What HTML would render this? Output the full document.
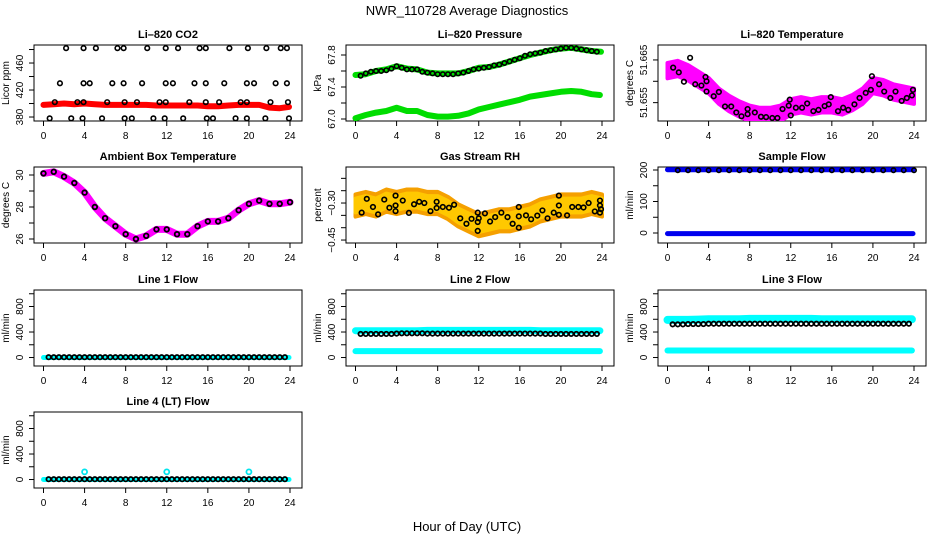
<!DOCTYPE html>
<html><head><meta charset="utf-8"><style>
html,body{margin:0;padding:0;background:#fff;}
svg{display:block;font-family:"Liberation Sans",sans-serif;}
</style></head><body>
<svg id="chart" width="936" height="540" viewBox="0 0 936 540" xmlns="http://www.w3.org/2000/svg">
<text x="467" y="15" font-size="13" text-anchor="middle">NWR_110728  Average Diagnostics</text>
<text x="467" y="531" font-size="13" text-anchor="middle">Hour of Day (UTC)</text>
</svg>
<script>
// ---------- data ----------
const xTicks = [0,4,8,12,16,20,24];
const hours = [0,1,2,3,4,5,6,7,8,9,10,11,12,13,14,15,16,17,18,19,20,21,22,23,24];
const halfHours = [0.5,1,1.5,2,2.5,3,3.5,4,4.5,5,5.5,6,6.5,7,7.5,8,8.5,9,9.5,10,10.5,11,11.5,12,12.5,13,13.5,14,14.5,15,15.5,16,16.5,17,17.5,18,18.5,19,19.5,20,20.5,21,21.5,22,22.5,23,23.5];

// CO2
const co2Red = [398,399,400,399,400,399,398,398,398,398,398,397,397,397,397,397,396,396,397,398,398,398,394,393,395];
const co2BlackX = [2.2,3.9,5.1,7.2,7.8,10.1,11.9,13.1,15.2,15.8,18.1,19.9,21.7,23.1,23.7,
  1.6,3.9,4.5,6.7,7.8,9.6,11.9,12.6,14.7,15.8,17.6,19.8,20.5,22.6,23.7,
  1.1,3.3,3.9,6.2,7.9,9.1,11.3,11.9,14.2,15.8,17.1,19.2,19.8,22.1,23.8,
  0.6,2.7,3.8,5.7,7.9,8.6,10.7,11.8,13.6,15.9,16.5,18.7,19.8,21.6,23.9];
const co2BlackY = [482,482,482,482,482,482,482,482,482,482,482,482,482,482,482,
  430,430,430,430,430,430,430,430,430,430,430,430,430,430,430,
  402,402,402,402,402,402,402,402,402,402,402,402,402,402,402,
  378,378,378,378,378,378,378,378,378,378,378,378,378,378,378];
// Pressure
const presUpper = [67.55,67.56,67.60,67.62,67.66,67.63,67.62,67.58,67.57,67.57,67.57,67.60,67.64,67.65,67.68,67.72,67.76,67.80,67.83,67.86,67.88,67.89,67.87,67.85,67.84];
const presLower = [67.01,67.05,67.08,67.10,67.14,67.10,67.10,67.05,67.03,67.03,67.04,67.07,67.12,67.15,67.18,67.21,67.24,67.28,67.30,67.32,67.34,67.35,67.34,67.31,67.30];
const presBlack = [67.54,67.57,67.59,67.60,67.60,67.61,67.63,67.66,67.64,67.62,67.62,67.62,67.59,67.58,67.57,67.56,67.56,67.56,67.56,67.57,67.58,67.60,67.62,67.63,67.64,67.65,67.67,67.68,67.70,67.72,67.74,67.76,67.79,67.81,67.82,67.83,67.85,67.86,67.87,67.88,67.89,67.89,67.88,67.87,67.86,67.85,67.84];
// Li-820 temperature
const tempBand = [51.6625,51.663,51.662,51.6605,51.659,51.6565,51.6548,51.6535,51.6525,51.652,51.652,51.6525,51.654,51.6545,51.654,51.6545,51.6545,51.654,51.655,51.6565,51.659,51.6585,51.6575,51.657,51.6565];
const tempBlackX = [0.55,1.1,1.6,2.2,2.7,3.3,3.7,3.8,3.8,4.5,5.0,5.6,6.2,6.7,7.2,7.8,7.8,8.5,9.1,9.6,10.2,10.7,11.2,11.8,11.9,12.0,12.5,13.1,13.6,14.2,14.7,15.3,15.7,15.9,16.6,17.1,17.6,18.2,18.7,19.3,19.8,19.9,20.6,21.1,21.7,22.2,22.8,23.3,23.8,23.9];
const tempBlackY = [51.6632,51.6621,51.6599,51.6655,51.6593,51.659,51.661,51.66,51.6576,51.6565,51.6575,51.6541,51.6541,51.6527,51.6518,51.6523,51.6535,51.6527,51.6517,51.6516,51.6514,51.6514,51.6535,51.6543,51.6557,51.652,51.6538,51.6538,51.6548,51.653,51.6533,51.6542,51.6546,51.6563,51.653,51.6538,51.6533,51.6546,51.6561,51.6573,51.658,51.6612,51.6593,51.6576,51.6561,51.6576,51.6554,51.6561,51.6567,51.658];
// Ambient box temperature
const ambient = [30.1,30.2,29.9,29.5,28.9,28.0,27.3,26.8,26.3,26.0,26.2,26.6,26.6,26.3,26.3,26.8,27.1,27.1,27.3,27.8,28.2,28.4,28.2,28.2,28.3];
// Gas stream RH
const rhBand = [-0.31,-0.30,-0.31,-0.29,-0.30,-0.29,-0.29,-0.30,-0.30,-0.32,-0.35,-0.37,-0.39,-0.38,-0.37,-0.37,-0.36,-0.35,-0.33,-0.32,-0.31,-0.31,-0.31,-0.30,-0.31];
const rhBlackX = [0.6,1.1,1.7,2.2,2.8,3.3,3.9,3.9,3.9,4.6,5.2,5.7,6.2,6.7,7.3,7.9,7.9,8.5,9.1,9.6,10.2,10.8,11.3,11.9,11.9,11.9,12.0,12.6,13.1,13.6,14.2,14.8,15.3,15.9,15.9,15.9,16.6,17.1,17.7,18.2,18.7,19.3,19.8,19.8,19.8,20.6,21.1,21.7,22.2,22.7,23.3,23.8,23.8,23.8,23.9];
const rhBlackY = [-0.339,-0.283,-0.316,-0.346,-0.286,-0.319,-0.333,-0.31,-0.27,-0.29,-0.34,-0.305,-0.295,-0.3,-0.333,-0.32,-0.295,-0.316,-0.319,-0.307,-0.362,-0.384,-0.364,-0.339,-0.377,-0.413,-0.362,-0.342,-0.375,-0.357,-0.339,-0.357,-0.384,-0.354,-0.316,-0.4,-0.35,-0.366,-0.351,-0.33,-0.362,-0.339,-0.348,-0.31,-0.27,-0.35,-0.316,-0.316,-0.318,-0.3,-0.334,-0.339,-0.31,-0.29,-0.325];
// Flows
const sampleBlue = [201,201,201,201,201,201,201,201,201,201,201,201,201,201,201,201,201,201,201,201,201,201,201,201,201];
const sampleZero = [-2,-2,-2,-2,-2,-2,-2,-2,-2,-2,-2,-2,-2,-2,-2,-2,-2,-2,-2,-2,-2,-2,-2,-2,-2];
const sampleBlack = [199,199,199,199,199,199,199,199,199,199,199,199,199,199,199,199,199,199,199,199,199,199,199,199];
const line1Black = [5,5,5,5,5,5,5,5,5,5,5,5,5,5,5,5,5,5,5,5,5,5,5,5,5,5,5,5,5,5,5,5,5,5,5,5,5,5,5,5,5,5,5,5,5,5,5];
const line1Cyan = [0,0,0,0,0,0,0,0,0,0,0,0,0,0,0,0,0,0,0,0,0,0,0,0,0];
const line2Upper = [420,420,420,420,420,420,420,425,425,425,425,425,425,425,425,425,425,425,420,420,420,420,420,420,420];
const line2Black = [370,370,370,370,370,370,370,375,380,380,380,380,380,375,375,375,375,375,375,375,375,375,375,375,375,375,375,375,375,375,375,375,375,375,375,375,370,370,370,370,370,370,370,370,370,370,370];
const line2Lower = [100,100,100,100,100,100,100,100,100,100,100,100,100,100,100,100,100,100,100,100,100,100,100,100,100];
const line3Upper = [590,590,590,595,600,600,600,600,605,605,605,605,605,605,605,600,600,600,600,600,600,600,600,600,600];
const line3Black = [520,520,520,525,525,525,525,530,530,530,530,530,530,530,530,530,530,530,530,530,530,530,530,530,530,530,530,530,530,530,530,530,530,530,530,530,530,530,530,530,530,530,530,530,530,530,530];
const line3Lower = [110,110,110,110,110,110,110,110,110,110,110,110,110,110,110,110,110,110,110,110,110,110,110,110,110];
const line4OutX = [4,12,20];
const line4OutY = [120,120,120];

// ticks
const co2Ticks=[380,400,420,440,460,480], co2Labels=["380","","420","","460",""];
const presTicks=[67.0,67.2,67.4,67.6,67.8], presLabels=["67.0","","67.4","","67.8"];
const tempTicks=[51.655,51.66,51.665], tempLabels=["51.655","","51.665"];
const ambTicks=[26,27,28,29,30], ambLabels=["26","","28","","30"];
const rhTicks=[-0.45,-0.40,-0.35,-0.30,-0.25,-0.20], rhLabels=["\u22120.45","","","\u22120.30","",""];
const sfTicks=[0,50,100,150,200], sfLabels=["0","","100","","200"];
const flowTicks=[0,200,400,600,800,1000], flowLabels=["0","","400","","800",""];

// ---------- drawing ----------
const NS="http://www.w3.org/2000/svg";
const svg=document.getElementById('chart');
const colL=[34,346,658], colW=268, rowT=[45,167,290,412], rowH=76;
function mk(tag,attrs,parent){const e=document.createElementNS(NS,tag);for(const k in attrs)e.setAttribute(k,attrs[k]);(parent||svg).appendChild(e);return e;}

function panel(name,col,row,title,ylab,ylim,ticks,labels){
  const g=mk('g',{});
  
  
  const L=colL[col],T=rowT[row],R=L+colW,B=T+rowH;
  const xs=h=>L+9.5+h/24*246.5;
  const ys=v=>B-(v-ylim[0])/(ylim[1]-ylim[0])*rowH;
  const t=mk('text',{x:(L+R)/2,y:T-7,'font-size':11,'font-weight':'bold','text-anchor':'middle'},g);
  t.textContent=title;
  
  
  const box=mk('rect',{x:L,y:T,width:colW,height:rowH,fill:'none',stroke:'#000','stroke-width':1},g);
  
  
  xTicks.forEach(h=>{
    mk('line',{x1:xs(h),x2:xs(h),y1:B,y2:B+5,stroke:'#000'},g);
    const tl=mk('text',{x:xs(h),y:B+18,'font-size':10,'text-anchor':'middle'},g);
    tl.textContent=h;
    
    
  });
  ticks.forEach((v,i)=>{
    const y=ys(v); if(y<T-1||y>B+1) return;
    mk('line',{x1:L-5,x2:L,y1:y,y2:y,stroke:'#000'},g);
    if(labels[i]){
      const tl=mk('text',{x:L-11,y:y,'font-size':10,'text-anchor':'middle',transform:`rotate(-90 ${L-11} ${y})`},g);
      tl.textContent=labels[i];
      
      
    }
  });
  const yt=mk('text',{x:L-25,y:(T+B)/2,'font-size':10,'text-anchor':'middle',transform:`rotate(-90 ${L-25} ${(T+B)/2})`},g);
  yt.textContent=ylab;
  
  
  const clip='c'+name; const cp=mk('clipPath',{id:clip},g); mk('rect',{x:L,y:T,width:colW,height:rowH},cp);
  const data=mk('g',{'clip-path':`url(#${clip})`},g);
  return {g:data,xs,ys};
}
function band(p,name,xArr,yArr,color,w,x0,x1){
  let d='';xArr.forEach((h,i)=>{let hh=h;if(x0!==undefined&&i===0)hh=x0;if(x1!==undefined&&i===xArr.length-1)hh=x1;d+=(i?'L':'M')+p.xs(hh).toFixed(1)+' '+p.ys(yArr[i]).toFixed(1);});
  const e=mk('path',{d:d,fill:'none',stroke:color,'stroke-width':w,'stroke-linejoin':'round','stroke-linecap':'round'},p.g);
  
  
}
function spread(p,name,xArr,yArr,half,color){
  let top='',bot=[];
  xArr.forEach((h,i)=>{top+=(i?'L':'M')+p.xs(h).toFixed(1)+' '+p.ys(yArr[i]+half).toFixed(1);bot.unshift('L'+p.xs(h).toFixed(1)+' '+p.ys(yArr[i]-half).toFixed(1));});
  const e=mk('path',{d:top+bot.join('')+'Z',fill:color,stroke:color,'stroke-width':4,'stroke-linejoin':'round'},p.g);
  
  
}
function pts(p,name,xArr,yArr,color,r,sw){
  xArr.forEach((h,i)=>{
    const c=mk('circle',{cx:p.xs(h),cy:p.ys(yArr[i]),r:r||2.3,fill:'none',stroke:color,'stroke-width':sw||1.6},p.g);
    
    
  });
}

// Li-820 CO2
let p=panel('panel-co2',0,0,'Li\u2013820 CO2','Licor ppm',[374.1,486.7],co2Ticks,co2Labels);
band(p,'co2-series',hours,co2Red,'#ff0000',6,0,23.9);
pts(p,'co2-point',co2BlackX,co2BlackY,'#000');
// Pressure
p=panel('panel-pressure',1,0,'Li\u2013820 Pressure','kPa',[66.975,67.925],presTicks,presLabels);
band(p,'pressure-upper',hours,presUpper,'#00dd00',6,0,23.9);
band(p,'pressure-lower',hours,presLower,'#00dd00',6,0,23.8);
pts(p,'pressure-point',halfHours,presBlack,'#000',2.2);
// Temperature
p=panel('panel-li820-temp',2,0,'Li\u2013820 Temperature','degrees C',[51.6507,51.6685],tempTicks,tempLabels);
spread(p,'temp-cloud',hours,tempBand,0.0018,'#ff00ff');
pts(p,'temp-point',tempBlackX,tempBlackY,'#000');
// Ambient
p=panel('panel-ambient',0,1,'Ambient Box Temperature','degrees C',[25.75,30.5],ambTicks,ambLabels);
band(p,'ambient-series',hours,ambient,'#ff00ff',7);
pts(p,'ambient-point',hours,ambient,'#000',2.3,1.8);
// RH
p=panel('panel-rh',1,1,'Gas Stream RH','percent',[-0.462,-0.154],rhTicks,rhLabels);
spread(p,'rh-cloud',hours,rhBand,0.045,'#f5a000');
spread(p,'rh-cloud-inner',hours,rhBand,0.028,'#ffc800');
pts(p,'rh-point',rhBlackX,rhBlackY,'#000');
// Sample flow
p=panel('panel-sample-flow',2,1,'Sample Flow','ml/min',[-31.7,209.5],sfTicks,sfLabels);
band(p,'sample-flow-series',hours,sampleBlue,'#0000ee',5,0,23.9);
band(p,'sample-flow-zero',hours,sampleZero,'#0000ee',5,0,23.9);
pts(p,'sample-flow-point',hours.slice(1),sampleBlack,'#000',2.2);
// Line flows
const flowLim=[-133,1059];
p=panel('panel-line1',0,2,'Line 1 Flow','ml/min',flowLim,flowTicks,flowLabels);
band(p,'line1-cyan',hours,line1Cyan,'#00ffff',5,0,23.9);
pts(p,'line1-point',halfHours,line1Black,'#000',2.2,1.8);
p=panel('panel-line2',1,2,'Line 2 Flow','ml/min',flowLim,flowTicks,flowLabels);
band(p,'line2-upper',hours,line2Upper,'#00ffff',7,0,23.8);
band(p,'line2-lower',hours,line2Lower,'#00ffff',6,0,23.8);
pts(p,'line2-point',halfHours,line2Black,'#000',2.2,1.8);
p=panel('panel-line3',2,2,'Line 3 Flow','ml/min',flowLim,flowTicks,flowLabels);
band(p,'line3-upper',hours,line3Upper,'#00ffff',8,0,23.8);
band(p,'line3-lower',hours,line3Lower,'#00ffff',6,0,23.8);
pts(p,'line3-point',halfHours,line3Black,'#000',2.2,1.8);
p=panel('panel-line4',0,3,'Line 4 (LT) Flow','ml/min',flowLim,flowTicks,flowLabels);
band(p,'line4-cyan',hours,line1Cyan,'#00ffff',5,0,23.9);
pts(p,'line4-point',halfHours,line1Black,'#000',2.2,1.8);
pts(p,'line4-outlier',line4OutX,line4OutY,'#00e5ee',2.5,1.8);
</script>
</body></html>
